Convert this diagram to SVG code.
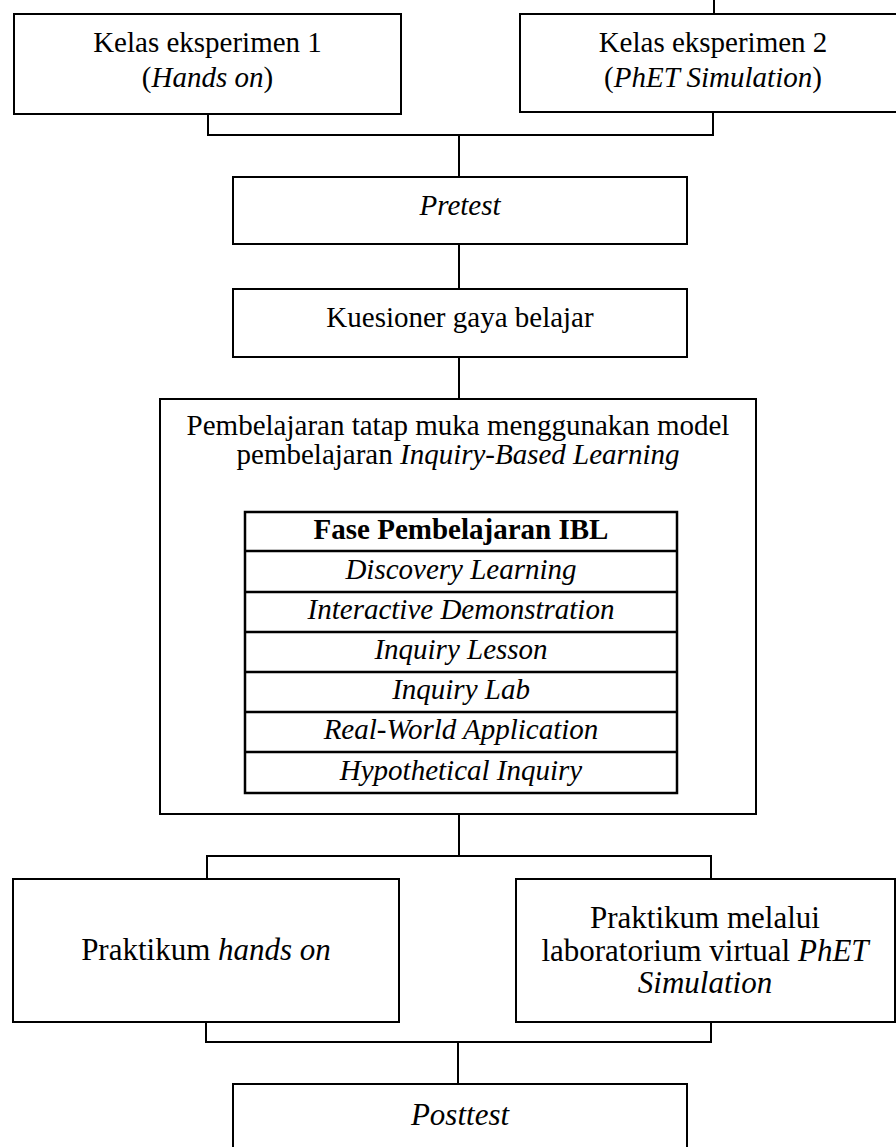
<svg xmlns="http://www.w3.org/2000/svg" width="896" height="1147" viewBox="0 0 896 1147">
<style>
  .box{fill:#fff;stroke:#000;stroke-width:2}
  .tbl{fill:none;stroke:#000;stroke-width:2.5}
  .con{fill:none;stroke:#000;stroke-width:2}
  text{font-family:"Liberation Serif","Times New Roman",serif;fill:#000;text-anchor:middle}
  .t29{font-size:29px}
  .t31{font-size:31px}
  .i{font-style:italic}
  .b{font-weight:bold}
</style>
<rect width="896" height="1147" fill="#fff"/>
<g id="connectors">
  <path class="con" d="M714 0V14"/>
  <path class="con" d="M208 114V135H713V112"/>
  <path class="con" d="M459 135V177"/>
  <path class="con" d="M459 244V289"/>
  <path class="con" d="M459 357V399"/>
  <path class="con" d="M459 814V856"/>
  <path class="con" d="M207 879V856H711V879"/>
  <path class="con" d="M206 1022V1042H711V1022"/>
  <path class="con" d="M458 1042V1084"/>
</g>
<g id="kelas1">
  <rect class="box" x="14" y="14" width="387" height="100"/>
  <text class="t29" x="207.5" y="52">Kelas eksperimen 1</text>
  <text class="t29" x="207.5" y="87">(<tspan class="i">Hands on</tspan>)</text>
</g>
<g id="kelas2">
  <rect class="box" x="520" y="14" width="390" height="98"/>
  <text class="t29" x="713" y="52">Kelas eksperimen 2</text>
  <text class="t29" x="713" y="87">(<tspan class="i">PhET Simulation</tspan>)</text>
</g>
<g id="pretest">
  <rect class="box" x="233" y="177" width="454" height="67"/>
  <text class="t29 i" x="460" y="215">Pretest</text>
</g>
<g id="kuesioner">
  <rect class="box" x="233" y="289" width="454" height="68"/>
  <text class="t29" x="460" y="327">Kuesioner gaya belajar</text>
</g>
<g id="pembelajaran">
  <rect class="box" x="160" y="399" width="596" height="415"/>
  <text class="t29" x="458" y="435">Pembelajaran tatap muka menggunakan model</text>
  <text class="t29" x="458" y="464">pembelajaran <tspan class="i">Inquiry-Based Learning</tspan></text>
</g>
<g id="fase-ibl">
  <rect class="tbl" x="245" y="512" width="432" height="281"/>
  <path class="tbl" d="M245 551H677M245 592H677M245 632H677M245 672H677M245 712H677M245 752H677"/>
  <text class="t29 b" x="461" y="539">Fase Pembelajaran IBL</text>
  <text class="t29 i" x="461" y="579">Discovery Learning</text>
  <text class="t29 i" x="461" y="619">Interactive Demonstration</text>
  <text class="t29 i" x="461" y="659">Inquiry Lesson</text>
  <text class="t29 i" x="461" y="699">Inquiry Lab</text>
  <text class="t29 i" x="461" y="739">Real-World Application</text>
  <text class="t29 i" x="461" y="780">Hypothetical Inquiry</text>
</g>
<g id="praktikum-hands-on">
  <rect class="box" x="13" y="879" width="386" height="143"/>
  <text class="t31" x="206" y="960">Praktikum <tspan class="i">hands on</tspan></text>
</g>
<g id="praktikum-phet">
  <rect class="box" x="516" y="879" width="379" height="143"/>
  <text class="t31" x="705" y="928">Praktikum melalui</text>
  <text class="t31" x="705" y="961">laboratorium virtual <tspan class="i">PhET</tspan></text>
  <text class="t31 i" x="705" y="993">Simulation</text>
</g>
<g id="posttest">
  <rect class="box" x="233" y="1084" width="454" height="80"/>
  <text class="t31 i" x="460" y="1125">Posttest</text>
</g>
</svg>
